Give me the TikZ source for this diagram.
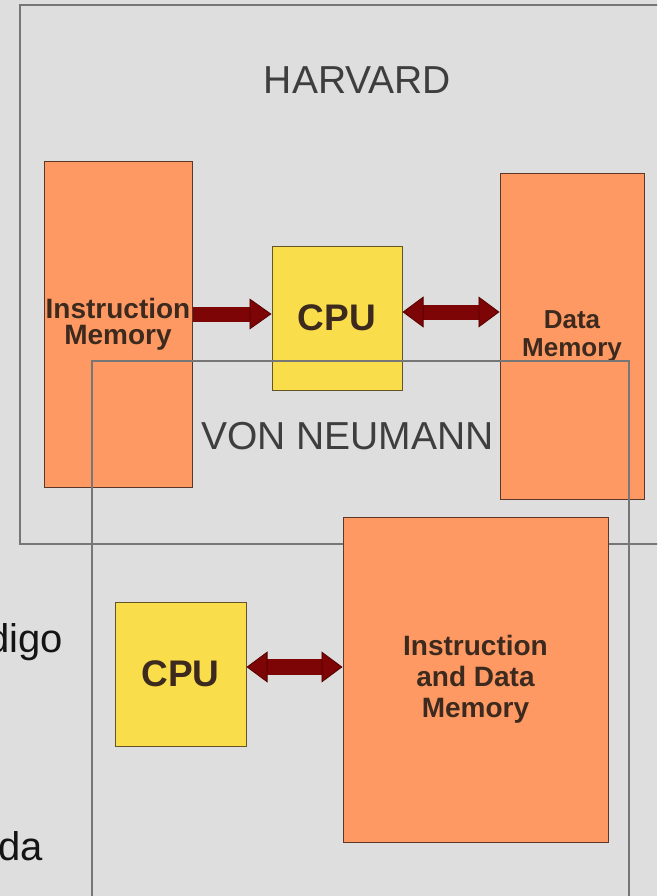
\documentclass[tikz,border=0pt]{standalone}
\usepackage{fontspec}
\setmainfont{Liberation Sans}
\usetikzlibrary{arrows.meta}
\definecolor{bg}{RGB}{222,222,222}
\definecolor{framegray}{RGB}{118,118,118}
\definecolor{memfill}{RGB}{254,153,99}
\definecolor{memline}{RGB}{90,55,40}
\definecolor{cpufill}{RGB}{249,221,74}
\definecolor{cpuline}{RGB}{100,85,40}
\definecolor{arrred}{RGB}{125,5,5}
\definecolor{arrline}{RGB}{85,0,0}
\definecolor{boxtext}{RGB}{60,42,30}
\definecolor{titletext}{RGB}{62,62,62}
\begin{document}
\begin{tikzpicture}[x=1pt,y=-1pt,
  membox/.style={draw=memline, line width=1pt, fill=memfill, inner sep=0pt,
    text=boxtext, font=\bfseries\fontsize{28}{26}\selectfont, align=center},
  cpubox/.style={draw=cpuline, line width=1pt, fill=cpufill, inner sep=0pt,
    text=boxtext, font=\bfseries\fontsize{37}{37}\selectfont},
  title/.style={text=titletext, font=\fontsize{39}{39}\selectfont, inner sep=0pt, anchor=base},
  side/.style={text=black!92, font=\fontsize{40}{40}\selectfont, inner sep=0pt, anchor=base east},
  frame/.style={draw=framegray, line width=1.5pt},
  bus/.style={draw=arrred, line width=15pt},
  tipone/.style={-{Triangle[length=22pt,width=31pt,line width=0.8pt,color=arrline,fill=arrred]}},
  tiptwo/.style={{Triangle[length=21pt,width=31pt,line width=0.8pt,color=arrline,fill=arrred]}-{Triangle[length=21pt,width=31pt,line width=0.8pt,color=arrline,fill=arrred]}}
]
\useasboundingbox (0,0) rectangle (657,896);
\clip (0,0) rectangle (657,896);
\fill[bg] (0,0) rectangle (657,896);

% Harvard frame
\draw[frame] (20,5) rectangle (720,544);
\node[title] (htitle) at (357.5,94) {HARVARD};

% Harvard blocks
\node[membox, minimum width=148pt, minimum height=325pt] (im) at (118,324.5) {Instruction\\Memory};
\node[cpubox, minimum width=130pt, minimum height=144pt] (cpuh) at (337,318) {CPU};
\node[membox, font=\bfseries\fontsize{26}{28}\selectfont, minimum width=144pt, minimum height=325pt] (dm) at (572,336.5) {Data\\Memory};

\coordinate (ya) at (0,314);
\coordinate (yb) at (0,312);
\draw[bus, tipone] (im.east |- ya) -- (cpuh.west |- ya);
\draw[bus, tiptwo] (cpuh.east |- yb) -- (dm.west |- yb);

% Von Neumann
\node[title] (vtitle) at (347.5,449) {VON NEUMANN};
\draw[frame] (92,361) rectangle (629,940);

\node[cpubox, minimum width=131pt, minimum height=144pt] (cpuv) at (180.5,674) {CPU};
\node[membox, font=\bfseries\fontsize{28}{31}\selectfont, minimum width=265pt, minimum height=325pt] (mem) at (475.5,679.5) {Instruction\\and Data\\Memory};

\coordinate (yc) at (0,667);
\draw[bus, line width=16pt, tiptwo] (cpuv.east |- yc) -- (mem.west |- yc);

% cut-off side text
\node[side] (t1) at (63,652) {digo};
\node[side] (t2) at (43,860) {da};
\end{tikzpicture}
\end{document}
